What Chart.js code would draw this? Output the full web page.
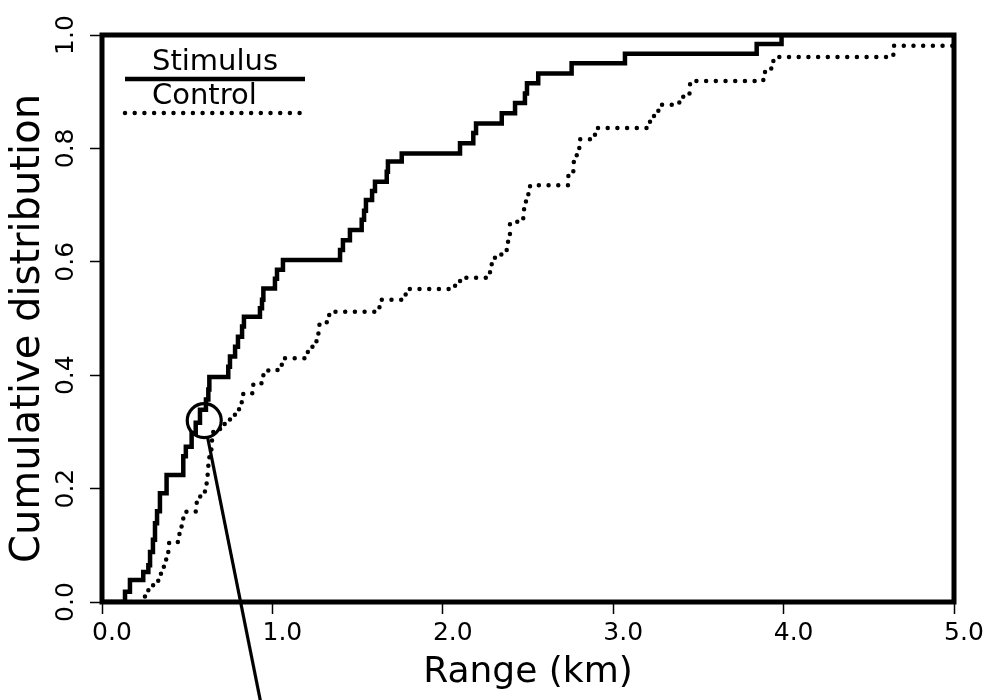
<!DOCTYPE html>
<html lang="en">
<head>
<meta charset="UTF-8">
<title>Cumulative distribution of range</title>
<script src="https://cdn.jsdelivr.net/npm/chart.js"></script>
<style>
    body {
        margin: 0;
        background: #fff;
    }
</style>
</head>
<body>
<canvas id="cdfChart" width="986" height="700"></canvas>

<script>
    // Step positions (km) and cumulative fraction reached at each step
    const stimulusRange = [0, 0.135, 0.164, 0.242, 0.272, 0.282, 0.299, 0.311, 0.323, 0.340, 0.379,
        0.477, 0.492, 0.526, 0.55, 0.575, 0.61, 0.624, 0.630, 0.741, 0.751, 0.781, 0.798, 0.822, 0.833,
        0.927, 0.939, 0.947, 1.015, 1.027, 1.062, 1.397, 1.414, 1.455, 1.524, 1.538, 1.549, 1.585, 1.602,
        1.671, 1.678, 1.759, 2.101, 2.179, 2.195, 2.346, 2.424, 2.482, 2.494, 2.560, 2.756, 3.069, 3.842,
        3.988, 5.0];
    const stimulusCum = [0, 0.018, 0.039, 0.053, 0.065, 0.088, 0.11, 0.139, 0.16, 0.192, 0.224,
        0.257, 0.274, 0.298, 0.316, 0.339, 0.357, 0.375, 0.397, 0.415, 0.433, 0.450, 0.468, 0.486, 0.503,
        0.518, 0.533, 0.553, 0.570, 0.586, 0.603, 0.621, 0.638, 0.656, 0.674, 0.690, 0.709, 0.725, 0.741,
        0.759, 0.777, 0.791, 0.809, 0.827, 0.844, 0.862, 0.880, 0.897, 0.915, 0.932, 0.950, 0.967, 0.984,
        1.0, 1.0];

    const controlRange = [0, 0.252, 0.272, 0.30, 0.33, 0.356, 0.372, 0.389, 0.445, 0.467, 0.477,
        0.55, 0.556, 0.604, 0.614, 0.620, 0.624, 0.630, 0.642, 0.653, 0.72, 0.751, 0.78, 0.820, 0.829,
        0.888, 0.947, 0.976, 1.055, 1.074, 1.201, 1.231, 1.25, 1.262, 1.270, 1.319, 1.367, 1.621, 1.631,
        1.772, 1.782, 2.072, 2.107, 2.277, 2.287, 2.306, 2.375, 2.383, 2.394, 2.437, 2.477, 2.488, 2.502,
        2.512, 2.737, 2.766, 2.786, 2.801, 2.883, 2.893, 3.206, 3.216, 3.265, 3.388, 3.411, 3.451, 3.881,
        3.891, 3.940, 4.644, 5.0];
    const controlCum = [0, 0.012, 0.022, 0.035, 0.05, 0.062, 0.075, 0.104, 0.120, 0.145, 0.159,
        0.168, 0.186, 0.203, 0.219, 0.235, 0.247, 0.265, 0.285, 0.305, 0.316, 0.327, 0.34, 0.353, 0.368,
        0.386, 0.400, 0.409, 0.419, 0.430, 0.441, 0.450, 0.460, 0.471, 0.489, 0.506, 0.512, 0.520, 0.533,
        0.540, 0.552, 0.566, 0.572, 0.589, 0.602, 0.613, 0.627, 0.642, 0.670, 0.677, 0.694, 0.709, 0.722,
        0.735, 0.753, 0.776, 0.788, 0.816, 0.824, 0.836, 0.843, 0.857, 0.877, 0.888, 0.897, 0.919, 0.929,
        0.941, 0.961, 0.981, 0.981];

    const xTicks = [0, 1, 2, 3, 4, 5];
    const yTicks = [0, 0.2, 0.4, 0.6, 0.8, 1.0];

    // Circled crossing and the pointer leaving it (axis units)
    const markPoint = { x: 0.60, y: 0.32 };
    const pointerEnd = { x: 0.93, y: -0.175 };

    const FONT = 'DejaVu Sans';
    const toPoints = (xs, ys) => xs.map((x, i) => ({ x: x, y: ys[i] }));

    // Heavy frame, rotated y labels and title, stacked legend, circled point
    const extras = {
        id: 'extras',
        afterDraw(chart) {
            const ctx = chart.ctx;
            const ca = chart.chartArea;
            const xs = chart.scales.x;
            const ys = chart.scales.y;

            ctx.save();
            ctx.strokeStyle = '#000';
            ctx.lineWidth = 5;
            ctx.strokeRect(ca.left, ca.top, ca.right - ca.left, ca.bottom - ca.top);

            // y tick labels, reading bottom to top
            ctx.fillStyle = '#000';
            ctx.font = '25px "' + FONT + '"';
            ctx.textAlign = 'center';
            ctx.textBaseline = 'middle';
            ys.ticks.forEach(t => {
                ctx.save();
                ctx.translate(66, ys.getPixelForValue(t.value));
                ctx.rotate(-Math.PI / 2);
                ctx.fillText(t.value.toFixed(1), 0, 0);
                ctx.restore();
            });

            // y axis title, sitting a little below the middle of the axis
            ctx.save();
            ctx.font = '40px "' + FONT + '"';
            ctx.translate(29, (ca.top + ca.bottom) / 2 + 10);
            ctx.rotate(-Math.PI / 2);
            ctx.fillText('Cumulative distribution', 0, 0);
            ctx.restore();

            // legend: label text above a sample of the line
            ctx.font = '29px "' + FONT + '"';
            ctx.textAlign = 'left';
            ctx.textBaseline = 'alphabetic';
            chart.data.datasets.forEach((ds, i) => {
                const top = ca.top + 35 + i * 34;
                ctx.fillText(ds.label, ca.left + 50, top);
                ctx.save();
                ctx.lineWidth = ds.borderWidth;
                ctx.lineCap = ds.borderCapStyle || 'butt';
                ctx.setLineDash(ds.borderDash || []);
                ctx.beginPath();
                ctx.moveTo(ca.left + 23, top + 9);
                ctx.lineTo(ca.left + 203, top + 9);
                ctx.stroke();
                ctx.restore();
            });

            // circled point with pointer line
            const cx = xs.getPixelForValue(markPoint.x);
            const cy = ys.getPixelForValue(markPoint.y);
            const ex = xs.getPixelForValue(pointerEnd.x);
            const ey = ys.getPixelForValue(pointerEnd.y);
            const r = 17;
            const len = Math.hypot(ex - cx, ey - cy);
            ctx.lineWidth = 3.2;
            ctx.beginPath();
            ctx.arc(cx, cy, r, 0, Math.PI * 2);
            ctx.stroke();
            ctx.beginPath();
            ctx.moveTo(cx + (ex - cx) * r / len, cy + (ey - cy) * r / len);
            ctx.lineTo(ex, ey);
            ctx.stroke();
            ctx.restore();
        }
    };

    new Chart(document.getElementById('cdfChart'), {
        type: 'line',
        data: {
            datasets: [{
                label: 'Stimulus',
                data: toPoints(stimulusRange, stimulusCum),
                stepped: 'before',
                borderColor: '#000',
                borderWidth: 4.5,
                pointRadius: 0,
                fill: false
            }, {
                label: 'Control',
                data: toPoints(controlRange, controlCum),
                stepped: 'before',
                borderColor: '#000',
                borderWidth: 4.5,
                borderDash: [0, 9.7],
                borderCapStyle: 'round',
                pointRadius: 0,
                fill: false
            }]
        },
        options: {
            responsive: false,
            animation: false,
            layout: {
                padding: { top: 35, right: 32, left: 0, bottom: 0 }
            },
            scales: {
                x: {
                    type: 'linear',
                    min: 0,
                    max: 5,
                    afterBuildTicks: s => { s.ticks = xTicks.map(v => ({ value: v })); },
                    afterFit: s => { s.height = 98; },
                    border: { display: false },
                    grid: {
                        drawOnChartArea: false,
                        drawTicks: true,
                        tickLength: 12,
                        tickWidth: 1.5,
                        tickColor: '#000'
                    },
                    ticks: {
                        color: '#000',
                        padding: 4,
                        labelOffset: 10,
                        maxRotation: 0,
                        font: { family: FONT, size: 25 },
                        callback: v => v.toFixed(1)
                    },
                    title: {
                        display: true,
                        text: 'Range (km)',
                        color: '#000',
                        font: { family: FONT, size: 36 },
                        padding: { top: 0, bottom: 6 }
                    }
                },
                y: {
                    type: 'linear',
                    min: 0,
                    max: 1,
                    afterBuildTicks: s => { s.ticks = yTicks.map(v => ({ value: v })); },
                    afterFit: s => { s.width = 102; },
                    border: { display: false },
                    grid: {
                        drawOnChartArea: false,
                        drawTicks: true,
                        tickLength: 12,
                        tickWidth: 1.5,
                        tickColor: '#000'
                    },
                    ticks: {
                        color: 'rgba(0,0,0,0)',
                        font: { family: FONT, size: 25 },
                        callback: v => v.toFixed(1)
                    },
                    title: { display: false }
                }
            },
            plugins: {
                legend: { display: false },
                tooltip: { enabled: false }
            }
        },
        plugins: [extras]
    });
</script>
</body>
</html>
